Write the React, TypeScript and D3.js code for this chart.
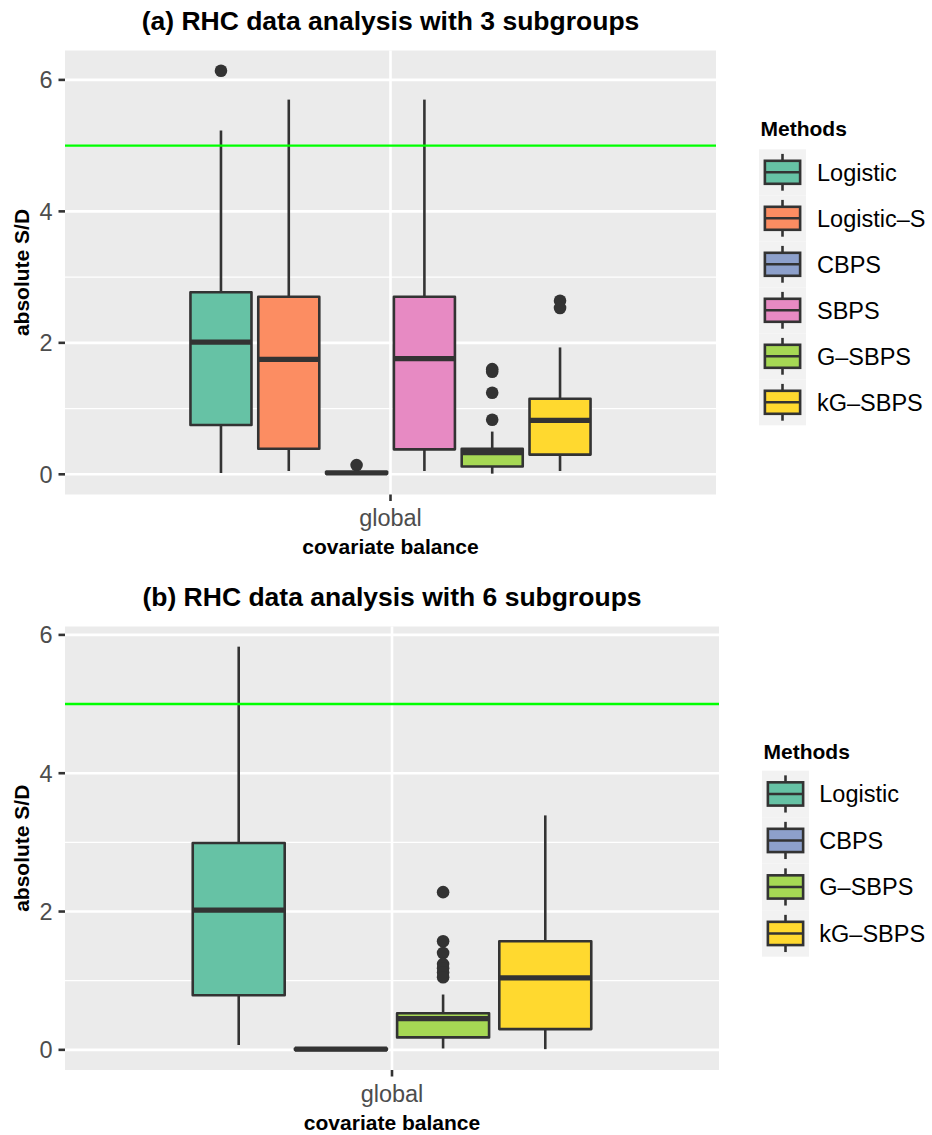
import React from "react";
import * as d3 from "d3";

// ---------- data ----------
const colorOf: Record<string, string> = {
  "Logistic": "#66C2A5",
  "Logistic–S": "#FC8D62",
  "CBPS": "#8DA0CB",
  "SBPS": "#E78AC3",
  "G–SBPS": "#A6D854",
  "kG–SBPS": "#FFD92F",
};

const xCategories = ["global"];
const yMajorTicks = [0, 2, 4, 6];
const yMinorTicks = [1, 3, 5];
const referenceLine = 5;

// Panel (a)
const methodsA = ["Logistic", "Logistic–S", "CBPS", "SBPS", "G–SBPS", "kG–SBPS"];
const lowerA = [0.02, 0.05, 0.0, 0.05, 0.01, 0.05];
const q1A = [0.75, 0.39, 0.01, 0.38, 0.12, 0.3];
const medianA = [2.01, 1.75, 0.02, 1.76, 0.33, 0.82];
const q3A = [2.77, 2.7, 0.04, 2.7, 0.39, 1.15];
const upperA = [5.23, 5.7, 0.05, 5.7, 0.65, 1.93];
const outliersA = [[6.14], [], [0.14], [], [1.6, 1.56, 1.24, 0.83], [2.64, 2.53]];

// Panel (b)
const methodsB = ["Logistic", "CBPS", "G–SBPS", "kG–SBPS"];
const lowerB = [0.07, 0.0, 0.02, 0.01];
const q1B = [0.79, 0.0, 0.18, 0.3];
const medianB = [2.02, 0.01, 0.45, 1.04];
const q3B = [2.99, 0.02, 0.53, 1.57];
const upperB = [5.83, 0.02, 0.8, 3.39];
const outliersB = [[], [], [2.28, 1.57, 1.4, 1.24, 1.18, 1.12, 1.05], []];

// ---------- styling ----------
const FONT = "'Liberation Sans', Arial, Helvetica, sans-serif";
const DARK = "#333333";
const PANEL_BG = "#EBEBEB";

type PanelProps = {
  title: string;
  methods: string[];
  lower: number[];
  q1: number[];
  median: number[];
  q3: number[];
  upper: number[];
  outliers: number[][];
  x0: number;
  x1: number;
  y0: number;
  y1: number;
  legendX: number;
  legendTitleY: number;
  legendKeyTop: number;
  legendKeyH: number;
  legendLabelX: number;
};

function Panel(p: PanelProps) {
  const allVals = [
    ...p.lower,
    ...p.upper,
    ...p.outliers.flat(),
  ];
  const lo = d3.min(allVals) as number;
  const hi = d3.max(allVals) as number;
  const pad = (hi - lo) * 0.05;
  const y = d3.scaleLinear().domain([lo - pad, hi + pad]).range([p.y1, p.y0]);

  // discrete x with ggplot expansion (0.6 each side)
  const xd = d3
    .scalePoint<string>()
    .domain(xCategories)
    .range([p.x0, p.x1])
    .padding(0.6 / 1.2 * 2 / 2 + 0.5);
  const unit = (p.x1 - p.x0) / 1.2;
  const center = (p.x0 + p.x1) / 2;
  const dodgeW = 0.75 * unit;
  const n = p.methods.length;
  const slot = dodgeW / n;
  const boxW = slot * 0.9;
  const slotScale = d3
    .scaleBand<string>()
    .domain(p.methods)
    .range([center - dodgeW / 2, center + dodgeW / 2]);

  const midY = (p.y0 + p.y1) / 2;
  const lw = 2.6;

  return (
    <g>
      <text
        x={center}
        y={p.y0 - 20.5}
        textAnchor="middle"
        fontFamily={FONT}
        fontWeight="bold"
        fontSize={26.5}
        fill="#000"
      >
        {p.title}
      </text>
      <rect x={p.x0} y={p.y0} width={p.x1 - p.x0} height={p.y1 - p.y0} fill={PANEL_BG} />
      {yMinorTicks.map((t) => (
        <line key={"mi" + t} x1={p.x0} x2={p.x1} y1={y(t)} y2={y(t)} stroke="#fff" strokeWidth={1.3} />
      ))}
      {yMajorTicks.map((t) => (
        <line key={"ma" + t} x1={p.x0} x2={p.x1} y1={y(t)} y2={y(t)} stroke="#fff" strokeWidth={2.6} />
      ))}
      {xCategories.map((c) => (
        <line key={c} x1={center} x2={center} y1={p.y0} y2={p.y1} stroke="#fff" strokeWidth={2.6} />
      ))}

      {p.methods.map((m, i) => {
        const cx = (slotScale(m) as number) + slot / 2;
        const bx = cx - boxW / 2;
        return (
          <g key={m}>
            {p.outliers[i].map((o, j) => (
              <circle key={j} cx={cx} cy={y(o)} r={6.3} fill={DARK} />
            ))}
            <line x1={cx} x2={cx} y1={y(p.upper[i])} y2={y(p.q3[i])} stroke={DARK} strokeWidth={lw} />
            <line x1={cx} x2={cx} y1={y(p.q1[i])} y2={y(p.lower[i])} stroke={DARK} strokeWidth={lw} />
            <rect
              x={bx}
              y={y(p.q3[i])}
              width={boxW}
              height={Math.max(0, y(p.q1[i]) - y(p.q3[i]))}
              fill={colorOf[m]}
              stroke={DARK}
              strokeWidth={lw}
              strokeLinejoin="round"
            />
            <line
              x1={bx}
              x2={bx + boxW}
              y1={y(p.median[i])}
              y2={y(p.median[i])}
              stroke={DARK}
              strokeWidth={5.2}
            />
          </g>
        );
      })}

      <line
        x1={p.x0}
        x2={p.x1}
        y1={y(referenceLine)}
        y2={y(referenceLine)}
        stroke="#00FF00"
        strokeWidth={2.4}
      />

      {/* y axis */}
      {yMajorTicks.map((t) => (
        <g key={"yt" + t}>
          <line x1={p.x0 - 6.5} x2={p.x0} y1={y(t)} y2={y(t)} stroke={DARK} strokeWidth={2.6} />
          <text
            x={p.x0 - 12.5}
            y={y(t) + 8.4}
            textAnchor="end"
            fontFamily={FONT}
            fontSize={23.5}
            fill="#4D4D4D"
          >
            {t}
          </text>
        </g>
      ))}
      <text
        transform={`translate(28.5,${midY}) rotate(-90)`}
        textAnchor="middle"
        fontFamily={FONT}
        fontWeight="bold"
        fontSize={21}
        fill="#000"
      >
        absolute S/D
      </text>

      {/* x axis */}
      {xCategories.map((c) => (
        <g key={"xt" + c}>
          <line x1={center} x2={center} y1={p.y1} y2={p.y1 + 6.5} stroke={DARK} strokeWidth={2.6} />
          <text
            x={center}
            y={p.y1 + 31.5}
            textAnchor="middle"
            fontFamily={FONT}
            fontSize={23.5}
            fill="#4D4D4D"
          >
            {c}
          </text>
        </g>
      ))}
      <text
        x={center}
        y={p.y1 + 59.5}
        textAnchor="middle"
        fontFamily={FONT}
        fontWeight="bold"
        fontSize={21}
        fill="#000"
      >
        covariate balance
      </text>

      {/* legend */}
      <text
        x={p.legendX + 1.5}
        y={p.legendTitleY}
        fontFamily={FONT}
        fontWeight="bold"
        fontSize={21}
        fill="#000"
      >
        Methods
      </text>
      {p.methods.map((m, i) => {
        const kw = 47;
        const kh = p.legendKeyH;
        const ky = p.legendKeyTop + i * kh;
        const kx = p.legendX;
        const kcx = kx + kw / 2;
        return (
          <g key={"lg" + m}>
            <rect x={kx} y={ky} width={kw} height={kh} fill="#F2F2F2" />
            <line x1={kcx} x2={kcx} y1={ky + 0.1 * kh} y2={ky + 0.25 * kh} stroke={DARK} strokeWidth={lw} />
            <line x1={kcx} x2={kcx} y1={ky + 0.75 * kh} y2={ky + 0.9 * kh} stroke={DARK} strokeWidth={lw} />
            <rect
              x={kx + 0.125 * kw}
              y={ky + 0.25 * kh}
              width={0.75 * kw}
              height={0.5 * kh}
              fill={colorOf[m]}
              stroke={DARK}
              strokeWidth={lw}
            />
            <line
              x1={kx + 0.125 * kw}
              x2={kx + 0.875 * kw}
              y1={ky + 0.5 * kh}
              y2={ky + 0.5 * kh}
              stroke={DARK}
              strokeWidth={lw}
            />
            <text
              x={p.legendLabelX}
              y={ky + kh / 2 + 8.4}
              fontFamily={FONT}
              fontSize={23.5}
              fill="#000"
            >
              {m}
            </text>
          </g>
        );
      })}
    </g>
  );
}

export default function App() {
  return (
    <svg
      width={932}
      height={1135}
      viewBox="0 0 932 1135"
      style={{ position: "absolute", left: 0, top: 0, display: "block", background: "#fff" }}
    >
      <rect x={0} y={0} width={932} height={1135} fill="#fff" />
      <Panel
        title="(a) RHC data analysis with 3 subgroups"
        methods={methodsA}
        lower={lowerA}
        q1={q1A}
        median={medianA}
        q3={q3A}
        upper={upperA}
        outliers={outliersA}
        x0={65}
        x1={716}
        y0={50.5}
        y1={494.5}
        legendX={759}
        legendTitleY={136}
        legendKeyTop={149.3}
        legendKeyH={46}
        legendLabelX={817}
      />
      <Panel
        title="(b) RHC data analysis with 6 subgroups"
        methods={methodsB}
        lower={lowerB}
        q1={q1B}
        median={medianB}
        q3={q3B}
        upper={upperB}
        outliers={outliersB}
        x0={65}
        x1={719}
        y0={626.5}
        y1={1070}
        legendX={762}
        legendTitleY={759}
        legendKeyTop={770.7}
        legendKeyH={46.5}
        legendLabelX={819.3}
      />
    </svg>
  );
}
